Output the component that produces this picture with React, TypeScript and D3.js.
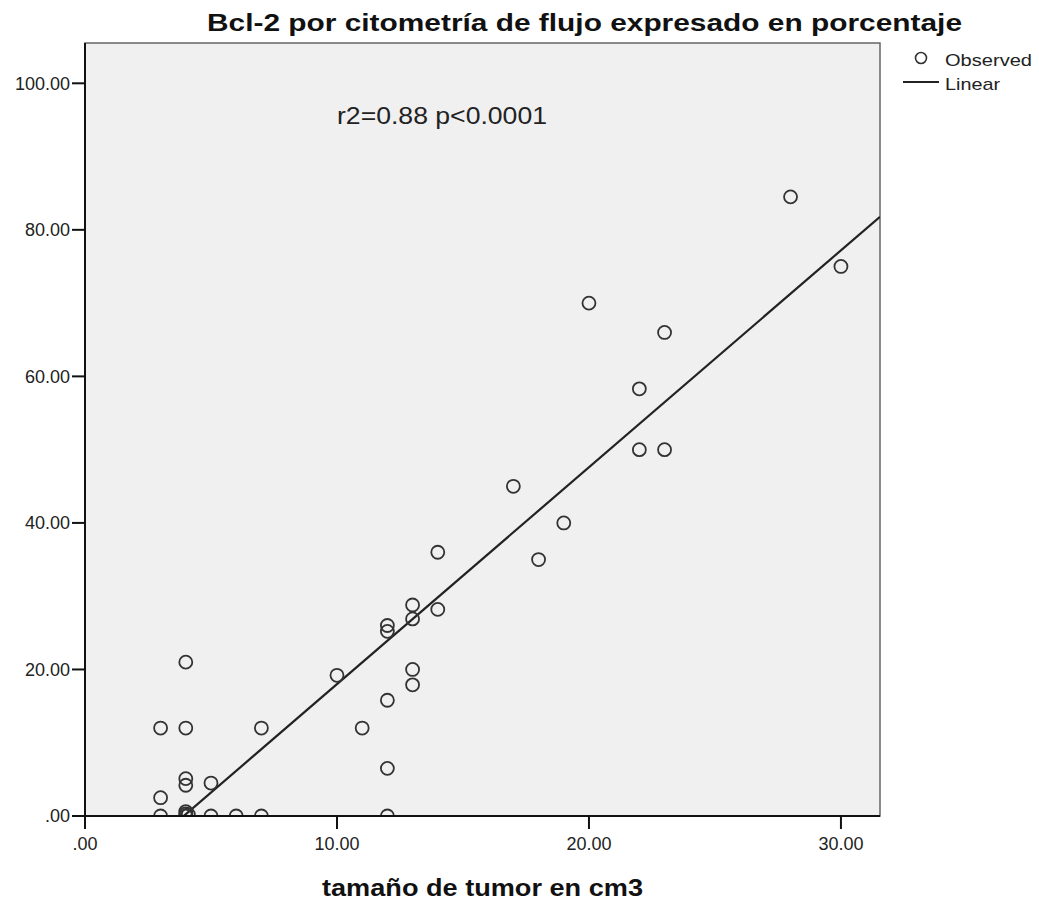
import React from "react";
import * as d3 from "d3";

const tumorSize: number[] = [
  30, 28, 23, 23, 22, 22, 20, 17, 19, 18, 14,
  10, 12, 12, 13, 13, 14, 13, 13, 12, 11, 12, 12,
  4, 3, 4, 7, 4, 4, 5, 3,
  3, 4, 4, 4, 4.1, 5, 6, 7,
];
const bcl2Percent: number[] = [
  75, 84.5, 66, 50, 50, 58.3, 70, 45, 40, 35, 36,
  19.2, 26, 25.2, 28.8, 26.9, 28.2, 20, 17.9, 15.8, 12, 6.5, 0,
  21, 12, 12, 12, 5.1, 4.2, 4.5, 2.5,
  0, 0, 0.3, 0.6, 0.2, 0, 0, 0,
];
const xTicks: number[] = [0, 10, 20, 30];
const yTicks: number[] = [0, 20, 40, 60, 80, 100];
const xDomain: number[] = [0, 31.55];
const yDomain: number[] = [0, 105.5];
const fitSlope = 2.96;
const fitIntercept = -11.6;

const titleText = "Bcl-2 por citometría de flujo expresado en porcentaje";
const xLabel = "tamaño de tumor en cm3";
const annotation = "r2=0.88 p<0.0001";
const legendLabels = ["Observed", "Linear"];

const fmt = (v: number) => (v === 0 ? ".00" : v.toFixed(2));

export default function App() {
  const W = 1039;
  const H = 903;
  const left = 85, right = 880, top = 43, bottom = 816;
  const x = d3.scaleLinear().domain(xDomain).range([left, right]);
  const y = d3.scaleLinear().domain(yDomain).range([bottom, top]);
  const fitPts: [number, number][] = [xDomain[0], xDomain[1]].map((v) => [v, fitIntercept + fitSlope * v]);
  const line = d3.line<[number, number]>().x((d) => x(d[0])).y((d) => y(d[1]));
  const font = "Arial, 'Liberation Sans', sans-serif";
  return (
    <svg width={W} height={H} style={{ position: "absolute", left: 0, top: 0, background: "#fff" }} fontFamily={font}>
      <defs>
        <clipPath id="plotclip">
          <rect x={left} y={top} width={right - left} height={bottom - top} />
        </clipPath>
      </defs>
      <rect x={0} y={0} width={W} height={H} fill="#fff" />
      <text x={584.5} y={31} textAnchor="middle" fontWeight="bold" fontSize={23} fill="#111" textLength={755} lengthAdjust="spacingAndGlyphs">{titleText}</text>
      <rect x={left} y={top} width={right - left} height={bottom - top} fill="#f0f0f0" stroke="#666" strokeWidth={1.5} />
      <g clipPath="url(#plotclip)">
        <path d={line(fitPts) || ""} fill="none" stroke="#222" strokeWidth={2.2} />
        {tumorSize.map((xv, i) => (
          <circle key={i} cx={x(xv)} cy={y(bcl2Percent[i])} r={6.5} fill="none" stroke="#333" strokeWidth={1.8} />
        ))}
      </g>
      <line x1={left} x2={left} y1={top} y2={bottom} stroke="#111" strokeWidth={2} />
      <line x1={left} x2={right} y1={bottom} y2={bottom} stroke="#111" strokeWidth={2} />
      {yTicks.map((t) => (
        <g key={"y" + t}>
          <line x1={left - 13} x2={left} y1={y(t)} y2={y(t)} stroke="#111" strokeWidth={2} />
          <text x={left - 15} y={y(t)} dy="0.36em" textAnchor="end" fontSize={18} fill="#222">{fmt(t)}</text>
        </g>
      ))}
      {xTicks.map((t) => (
        <g key={"x" + t}>
          <line x1={x(t)} x2={x(t)} y1={bottom} y2={bottom + 13} stroke="#111" strokeWidth={2} />
          <text x={x(t)} y={850} textAnchor="middle" fontSize={18} fill="#222">{fmt(t)}</text>
        </g>
      ))}
      <text x={482.5} y={896} textAnchor="middle" fontWeight="bold" fontSize={23} fill="#111" textLength={321} lengthAdjust="spacingAndGlyphs">{xLabel}</text>
      <text x={337} y={124} fontSize={24} fill="#222" textLength={210} lengthAdjust="spacingAndGlyphs">{annotation}</text>
      <circle cx={921} cy={58} r={5.5} fill="none" stroke="#333" strokeWidth={1.6} />
      <text x={945} y={66} fontSize={17} fill="#222" textLength={87} lengthAdjust="spacingAndGlyphs">{legendLabels[0]}</text>
      <line x1={903} x2={939} y1={82} y2={82} stroke="#222" strokeWidth={2} />
      <text x={945} y={90} fontSize={17} fill="#222" textLength={55} lengthAdjust="spacingAndGlyphs">{legendLabels[1]}</text>
    </svg>
  );
}
